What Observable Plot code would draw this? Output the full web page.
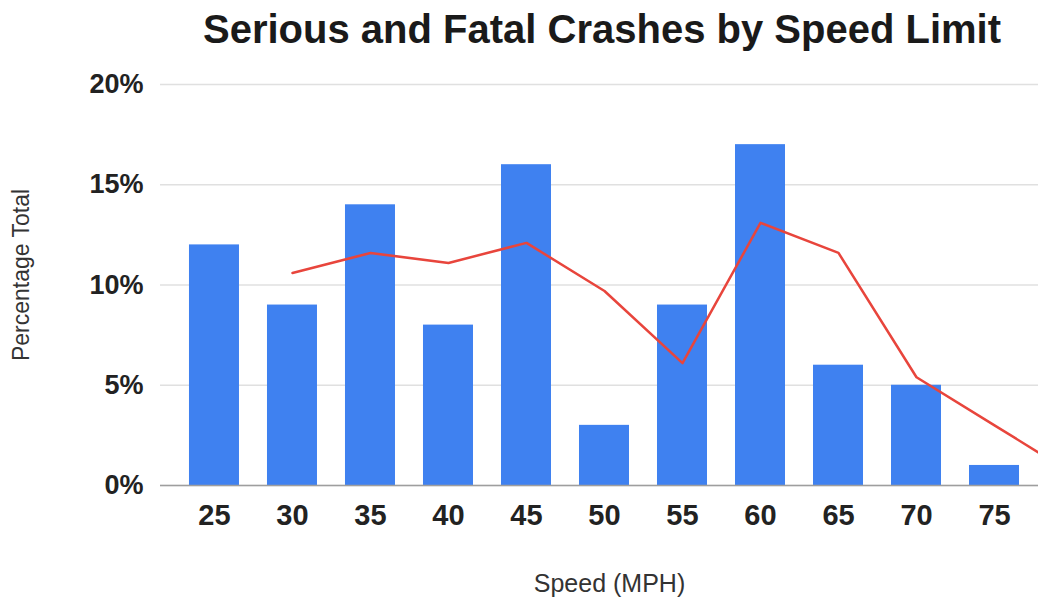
<!DOCTYPE html>
<html>
<head>
<meta charset="utf-8">
<script src="https://cdn.jsdelivr.net/npm/d3@7"></script>
<script src="https://cdn.jsdelivr.net/npm/@observablehq/plot@0.6"></script>
<style>
  html, body { margin: 0; padding: 0; background: #fff; overflow: hidden; }
  #wrap { position: relative; width: 1038px; height: 609px; }
  #title { position: absolute; left: 0; top: 9px; width: 1038px; padding-left: 166px; box-sizing: border-box; text-align: center;
    font-family: "Liberation Sans", Arial, sans-serif; font-weight: bold; font-size: 40px; line-height: 40px; color: #1a1a1a; }
</style>
</head>
<body>
<div id="wrap">
  <div id="chart"></div>
  <div id="title">Serious and Fatal Crashes by Speed Limit</div>
</div>
<script>
const speeds = [25, 30, 35, 40, 45, 50, 55, 60, 65, 70, 75];
const crashPct = [12, 9, 14, 8, 16, 3, 9, 17, 6, 5, 1];
const trendSpeeds = [30, 35, 40, 45, 50, 55, 60, 65, 70, 75, 80];
const trendPct = [10.6, 11.6, 11.1, 12.1, 9.7, 6.1, 13.1, 11.6, 5.4, 3.0, 0.6];
const yTicks = [0, 5, 10, 15, 20];

const bars = speeds.map((s, i) => ({speed: s, pct: crashPct[i]}));
const trend = trendSpeeds.map((s, i) => ({speed: s, pct: trendPct[i]}));

const chart = Plot.plot({
  width: 1038,
  height: 609,
  marginLeft: 160,
  marginRight: 0,
  marginTop: 84,
  marginBottom: 124,
  style: {fontFamily: "'Liberation Sans', Arial, sans-serif", color: "#222", background: "white"},
  x: {type: "linear", domain: [21.54, 77.82]},
  y: {domain: [0, 20]},
  marks: [
    Plot.gridY(yTicks, {stroke: "#e0e0e0", strokeOpacity: 1, strokeWidth: 1.5}),
    Plot.rectY(bars, {x1: d => d.speed - 2.5, x2: d => d.speed + 2.5, y: "pct", insetLeft: 14, insetRight: 14, fill: "#3f81f0"}),
    Plot.ruleY([0], {stroke: "#9e9e9e", strokeWidth: 1.5}),
    Plot.line(trend, {x: "speed", y: "pct", stroke: "#e8453c", strokeWidth: 2.5, clip: true}),
    Plot.axisX(speeds, {tickSize: 0, tickPadding: 19, fontSize: 29, fontWeight: "bold", label: null, tickFormat: d => String(d), fill: "#222"}),
    Plot.axisY(yTicks, {tickSize: 0, tickPadding: 17, fontSize: 27, fontWeight: "bold", label: null, tickFormat: d => d + "%", fill: "#222"}),
    Plot.text(["Percentage Total"], {frameAnchor: "left", textAnchor: "middle", rotate: -90, dx: -139, dy: -10, fontSize: 23, fill: "#333"}),
    Plot.text(["Speed (MPH)"], {frameAnchor: "bottom", textAnchor: "middle", dy: 98, dx: 10, lineAnchor: "middle", fontSize: 25, fill: "#333"})
  ]
});
document.getElementById("chart").appendChild(chart);
</script>
</body>
</html>
